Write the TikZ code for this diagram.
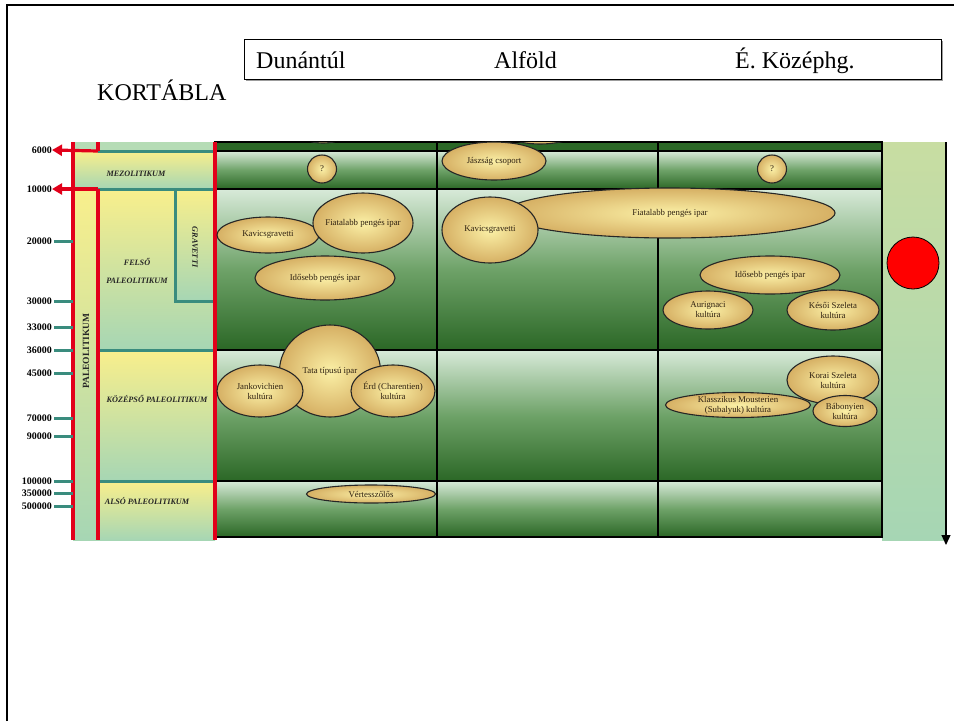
\documentclass[tikz,border=0pt]{standalone}
\usepackage{fontspec}
\setmainfont{Liberation Serif}
\usepackage{tikz}
\usetikzlibrary{positioning,arrows.meta,shapes.geometric,shadows}
\definecolor{k_red}{HTML}{E2001A}
\definecolor{k_teal}{HTML}{3A8C7E}
\definecolor{k_yellow}{HTML}{F9EF8C}
\definecolor{k_mint}{HTML}{A6D6B4}
\definecolor{k_pale}{HTML}{B5DCB5}
\definecolor{k_dark}{HTML}{2B6726}
\definecolor{k_light}{HTML}{D8EAD9}
\definecolor{k_mid}{HTML}{6EA268}
\definecolor{k_tanin}{HTML}{FBF0A6}
\definecolor{k_tanout}{HTML}{D6B064}
\definecolor{k_ink}{HTML}{2E2010}
\definecolor{k_lime}{HTML}{C8DDA2}

\begin{document}
\begin{tikzpicture}[
        x=1pt, y=-1pt,
        cell/.style={draw=black, line width=1.3pt, top color=k_light, bottom color=k_dark, middle color=k_mid},
        panel/.style={top color=k_yellow, bottom color=k_mint},
        redline/.style={draw=k_red, line width=3.2pt},
        redarrow/.style={redline, -{Triangle[length=10pt, width=11pt]}},
        tealline/.style={draw=k_teal, line width=3pt},
        culture/.style={ellipse, draw=black!85, line width=1.1pt, inner color=k_tanin, outer color=k_tanout,
            inner xsep=-12pt, inner ysep=-3pt, align=center, text=k_ink, font=\fontsize{8.8}{10}\selectfont},
        era/.style={text=black!85, font=\fontsize{8.2}{9}\selectfont\bfseries\itshape, align=center},
        year/.style={anchor=east, inner sep=0pt, font=\fontsize{10}{11}\selectfont\bfseries},
        title/.style={font=\fontsize{24}{28}\selectfont, inner sep=0pt}
    ]
    \useasboundingbox (0,0) rectangle (954,721);
    \fill[white] (0,0) rectangle (954,721);
    \draw[line width=2.5pt] (7,721) -- (7,5) -- (954,5);

    % heading
    \node[draw=black, line width=0.8pt, fill=white, minimum width=697pt, minimum height=40pt, inner sep=0pt,
        drop shadow={shadow xshift=1.5pt, shadow yshift=-1.5pt, fill=black!55, opacity=.7}] (head) at (592.5,59) {};
    \node[title, anchor=base west] (dun) at (256,68) {Dunántúl};
    \node[title, anchor=base west] (alf) at (494,68) {Alföld};
    \node[title, anchor=base west] (esz) at (735,68) {É. Középhg.};
    \node[title, anchor=base west] (kort) at (97,100) {KORTÁBLA};

    % left panel
    \fill[k_pale] (73,142) rectangle (215,151);
    \shade[panel] (73,151) rectangle (215,189);
    \shade[panel] (73,189) rectangle (98,540);
    \shade[panel] (98,189) rectangle (215,350);
    \shade[panel] (175,189) rectangle (215,301);
    \shade[panel] (98,350) rectangle (215,481);
    \shade[panel] (98,481) rectangle (215,540);
    \shade[top color=k_lime, bottom color=k_mint] (882,142) rectangle (945,540);

    % cells
    \foreach \xa/\xb in {215/437,437/658,658/882}{
        \path[draw=black, line width=1.3pt, fill=k_dark] (\xa,142) rectangle (\xb,151);
        \foreach \ya/\yb in {151/189,189/350,350/481,481/537}
            \path[cell] (\xa,\ya) rectangle (\xb,\yb);
    }

    \draw[tealline] (98,151) -- (215,151);
    \draw[tealline] (98,189) -- (215,189);
    \draw[tealline] (98,350) -- (215,350);
    \draw[tealline] (98,481) -- (215,481);
    \draw[tealline] (175,189) -- (175,301) -- (215,301);

    \draw[redline] (73,142) -- (73,540);
    \draw[redline] (98,142) -- (98,151);
    \draw[redline] (98,189) -- (98,540);
    \draw[redline] (215,142) -- (215,540);

    % years
    \node[year] (y6000) at (52,150) {6000};
    \node[year] (y10000) at (52,189) {10000};
    \coordinate (m6000) at (98,151);
    \coordinate (m10000) at (98,189);
    \draw[redarrow] (m6000) -- (y6000.east);
    \draw[redarrow] (m10000) -- (y10000.east);
    \foreach \v/\y in {20000/241,30000/301,33000/327,36000/350,45000/373,70000/418,90000/436,100000/481,350000/493,500000/506}{
        \node[year] (y\v) at (52,\y) {\v};
        \coordinate (t\v) at (73,\y);
        \draw[tealline] ([xshift=2pt]y\v.east) -- (t\v);
    }

    \node[era] (mezo) at (136,174) {MEZOLITIKUM};
    \node[era] (felso) at (137,271) {FELSŐ\\[9pt]PALEOLITIKUM};
    \node[era, rotate=-90] (grav) at (195,247) {GRAVETTI};
    \node[era] (kozep) at (157,399) {KÖZÉPSŐ PALEOLITIKUM};
    \node[era] (also) at (147,501) {ALSÓ PALEOLITIKUM};
    \node[text=black!85, font=\fontsize{9.5}{10}\selectfont\bfseries, rotate=90] (paleo) at (86,351) {PALEOLITIKUM};

    % cultures
    \begin{scope}
        \clip (215,142) rectangle (882,540);
        \node[culture, minimum width=60pt, minimum height=34pt] (cut1) at (323,126) {};
        \node[culture, minimum width=90pt, minimum height=38pt] (cut2) at (540,125) {};
    \end{scope}
    \node[culture, minimum width=29pt, minimum height=28pt] (q1) at (322,169) {?};
    \node[culture, minimum width=104pt, minimum height=38pt] (jasz) at (494,161) {Jászság csoport};
    \node[culture, minimum width=29pt, minimum height=28pt] (q3) at (772,169) {?};

    \node[culture, minimum width=102pt, minimum height=36pt] (kav1) at (268,235) {Kavicsgravetti};
    \node[culture, minimum width=100pt, minimum height=60pt] (fia1) at (363,223) {Fiatalabb pengés ipar};
    \node[culture, minimum width=140pt, minimum height=44pt] (ido1) at (325,278) {Idősebb pengés ipar};
    \node[culture, minimum width=330pt, minimum height=50pt] (fia2) at (670,213) {Fiatalabb pengés ipar};
    \node[culture, minimum width=96pt, minimum height=66pt] (kav2) at (490,230) {Kavicsgravetti};
    \node[culture, minimum width=140pt, minimum height=38pt] (ido3) at (770,275) {Idősebb pengés ipar};
    \node[culture, minimum width=90pt, minimum height=38pt] (aur) at (708,310) {Aurignaci\\kultúra};
    \node[culture, minimum width=92pt, minimum height=40pt] (kes) at (833,310) {Késői Szeleta\\kultúra};

    \node[culture, minimum width=101pt, minimum height=92pt] (tata) at (330,371) {Tata típusú ipar};
    \node[culture, minimum width=86pt, minimum height=52pt] (jank) at (260,391) {Jankovichien\\kultúra};
    \node[culture, minimum width=84pt, minimum height=52pt] (erd) at (393,391) {Érd (Charentien)\\kultúra};
    \node[culture, minimum width=92pt, minimum height=48pt] (korai) at (833,380) {Korai Szeleta\\kultúra};
    \node[culture, minimum width=145pt, minimum height=25pt] (klass) at (738,405) {Klasszikus Mousterien\\(Subalyuk) kultúra};
    \node[culture, minimum width=64pt, minimum height=31pt] (babo) at (845,411) {Bábonyien\\kultúra};
    \node[culture, minimum width=129pt, minimum height=18pt] (vert) at (371,494) {Vértesszőlős};

    % time axis
    \node[circle, draw=black, line width=0.8pt, fill=red, minimum size=52pt, inner sep=0pt] (dot) at (913,263) {};
    \coordinate (atop) at (946,142);
    \coordinate (abot) at (946,545);
    \draw[line width=1.2pt, -{Triangle[length=10pt, width=9pt]}] (atop) -- (abot);
\end{tikzpicture}
\end{document}
